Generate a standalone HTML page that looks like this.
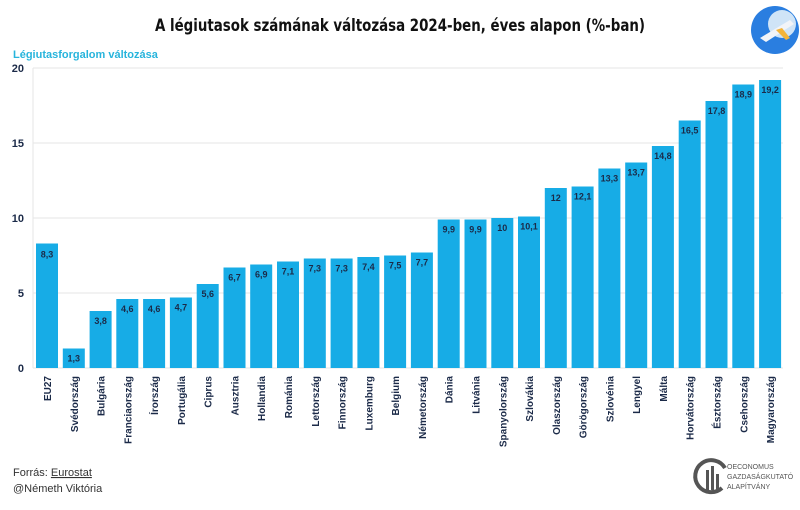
<!DOCTYPE html>
<html><head><meta charset="utf-8"><style>
html,body{margin:0;padding:0;background:#fff;}
svg{display:block;font-family:"Liberation Sans",sans-serif;}
.v{font-size:9px;font-weight:bold;fill:#1b2a48;text-anchor:middle;}
.c{font-size:10px;font-weight:bold;fill:#1b2a48;text-anchor:end;}
.t{font-size:11px;font-weight:bold;fill:#1b2a48;text-anchor:end;}
rect.b{fill:#17ace6;}
</style></head><body>
<svg width="800" height="510" viewBox="0 0 800 510">
<text x="400" y="31" text-anchor="middle" font-size="17" font-weight="bold" fill="#111" textLength="490" lengthAdjust="spacingAndGlyphs" style="font-family:'DejaVu Sans Condensed','Liberation Sans Narrow','Liberation Sans',sans-serif">A légiutasok számának változása 2024-ben, éves alapon (%-ban)</text>
<text x="13" y="58" font-size="11" font-weight="bold" fill="#27b4dc">Légiutasforgalom változása</text>
<g stroke="#e6e6e6" stroke-width="1">
<line x1="33" y1="68" x2="783" y2="68"/><line x1="33" y1="143" x2="783" y2="143"/><line x1="33" y1="218" x2="783" y2="218"/><line x1="33" y1="293" x2="783" y2="293"/><line x1="33" y1="368" x2="783" y2="368"/>
<line x1="33" y1="68" x2="33" y2="368"/>
</g>
<text class="t" x="24" y="72">20</text><text class="t" x="24" y="147">15</text><text class="t" x="24" y="222">10</text><text class="t" x="24" y="297">5</text><text class="t" x="24" y="372">0</text>
<g>
<rect class="b" x="36" y="243.5" width="22" height="124.5"/>
<rect class="b" x="62.8" y="348.5" width="22" height="19.5"/>
<rect class="b" x="89.6" y="311" width="22" height="57"/>
<rect class="b" x="116.3" y="299" width="22" height="69"/>
<rect class="b" x="143.1" y="299" width="22" height="69"/>
<rect class="b" x="169.9" y="297.5" width="22" height="70.5"/>
<rect class="b" x="196.7" y="284" width="22" height="84"/>
<rect class="b" x="223.5" y="267.5" width="22" height="100.5"/>
<rect class="b" x="250.2" y="264.5" width="22" height="103.5"/>
<rect class="b" x="277" y="261.5" width="22" height="106.5"/>
<rect class="b" x="303.8" y="258.5" width="22" height="109.5"/>
<rect class="b" x="330.6" y="258.5" width="22" height="109.5"/>
<rect class="b" x="357.4" y="257" width="22" height="111"/>
<rect class="b" x="384.1" y="255.5" width="22" height="112.5"/>
<rect class="b" x="410.9" y="252.5" width="22" height="115.5"/>
<rect class="b" x="437.7" y="219.5" width="22" height="148.5"/>
<rect class="b" x="464.5" y="219.5" width="22" height="148.5"/>
<rect class="b" x="491.3" y="218" width="22" height="150"/>
<rect class="b" x="518" y="216.5" width="22" height="151.5"/>
<rect class="b" x="544.8" y="188" width="22" height="180"/>
<rect class="b" x="571.6" y="186.5" width="22" height="181.5"/>
<rect class="b" x="598.4" y="168.5" width="22" height="199.5"/>
<rect class="b" x="625.2" y="162.5" width="22" height="205.5"/>
<rect class="b" x="651.9" y="146" width="22" height="222"/>
<rect class="b" x="678.7" y="120.5" width="22" height="247.5"/>
<rect class="b" x="705.5" y="101" width="22" height="267"/>
<rect class="b" x="732.3" y="84.5" width="22" height="283.5"/>
<rect class="b" x="759.1" y="80" width="22" height="288"/>
</g>
<g>
<text class="v" x="47" y="257.5">8,3</text>
<text class="v" x="73.8" y="361.5">1,3</text>
<text class="v" x="100.6" y="324">3,8</text>
<text class="v" x="127.3" y="312">4,6</text>
<text class="v" x="154.1" y="312">4,6</text>
<text class="v" x="180.9" y="310.5">4,7</text>
<text class="v" x="207.7" y="297">5,6</text>
<text class="v" x="234.5" y="280.5">6,7</text>
<text class="v" x="261.2" y="277.5">6,9</text>
<text class="v" x="288" y="274.5">7,1</text>
<text class="v" x="314.8" y="271.5">7,3</text>
<text class="v" x="341.6" y="271.5">7,3</text>
<text class="v" x="368.4" y="270">7,4</text>
<text class="v" x="395.1" y="268.5">7,5</text>
<text class="v" x="421.9" y="265.5">7,7</text>
<text class="v" x="448.7" y="232.5">9,9</text>
<text class="v" x="475.5" y="232.5">9,9</text>
<text class="v" x="502.3" y="231">10</text>
<text class="v" x="529" y="229.5">10,1</text>
<text class="v" x="555.8" y="201">12</text>
<text class="v" x="582.6" y="199.5">12,1</text>
<text class="v" x="609.4" y="181.5">13,3</text>
<text class="v" x="636.2" y="175.5">13,7</text>
<text class="v" x="662.9" y="159">14,8</text>
<text class="v" x="689.7" y="133.5">16,5</text>
<text class="v" x="716.5" y="114">17,8</text>
<text class="v" x="743.3" y="97.5">18,9</text>
<text class="v" x="770.1" y="93">19,2</text>
</g>
<g>
<text class="c" transform="translate(51,376) rotate(-90)">EU27</text>
<text class="c" transform="translate(77.8,376) rotate(-90)">Svédország</text>
<text class="c" transform="translate(104.6,376) rotate(-90)">Bulgária</text>
<text class="c" transform="translate(131.3,376) rotate(-90)">Franciaország</text>
<text class="c" transform="translate(158.1,376) rotate(-90)">Írország</text>
<text class="c" transform="translate(184.9,376) rotate(-90)">Portugália</text>
<text class="c" transform="translate(211.7,376) rotate(-90)">Ciprus</text>
<text class="c" transform="translate(238.5,376) rotate(-90)">Ausztria</text>
<text class="c" transform="translate(265.2,376) rotate(-90)">Hollandia</text>
<text class="c" transform="translate(292,376) rotate(-90)">Románia</text>
<text class="c" transform="translate(318.8,376) rotate(-90)">Lettország</text>
<text class="c" transform="translate(345.6,376) rotate(-90)">Finnország</text>
<text class="c" transform="translate(372.4,376) rotate(-90)">Luxemburg</text>
<text class="c" transform="translate(399.1,376) rotate(-90)">Belgium</text>
<text class="c" transform="translate(425.9,376) rotate(-90)">Németország</text>
<text class="c" transform="translate(452.7,376) rotate(-90)">Dánia</text>
<text class="c" transform="translate(479.5,376) rotate(-90)">Litvánia</text>
<text class="c" transform="translate(506.3,376) rotate(-90)">Spanyolország</text>
<text class="c" transform="translate(533,376) rotate(-90)">Szlovákia</text>
<text class="c" transform="translate(559.8,376) rotate(-90)">Olaszország</text>
<text class="c" transform="translate(586.6,376) rotate(-90)">Görögország</text>
<text class="c" transform="translate(613.4,376) rotate(-90)">Szlovénia</text>
<text class="c" transform="translate(640.2,376) rotate(-90)">Lengyel</text>
<text class="c" transform="translate(666.9,376) rotate(-90)">Málta</text>
<text class="c" transform="translate(693.7,376) rotate(-90)">Horvátország</text>
<text class="c" transform="translate(720.5,376) rotate(-90)">Észtország</text>
<text class="c" transform="translate(747.3,376) rotate(-90)">Csehország</text>
<text class="c" transform="translate(774.1,376) rotate(-90)">Magyarország</text>
</g>
<text x="13" y="476" font-size="11" fill="#333">Forrás: <tspan text-decoration="underline">Eurostat</tspan></text>
<text x="13" y="492" font-size="11" fill="#333">@Németh Viktória</text>
<circle cx="775" cy="30" r="24" fill="#2a7ee0"/>
<circle cx="782" cy="24" r="14" fill="#cfe4f7"/>
<path d="M760 38 L790 20 L794 24 L766 42 Z" fill="#f2f4f8"/>
<path d="M776 30 L786 40 L790 38 L782 28 Z" fill="#f3b43a"/>
<path d="M725 468 A16 16 0 1 0 722 488" stroke="#555" stroke-width="4" fill="none"/>
<rect x="706" y="470" width="3" height="20" fill="#555"/><rect x="711" y="466" width="3" height="24" fill="#555"/><rect x="716" y="474" width="3" height="16" fill="#555"/>
<text x="727" y="469" font-size="7" fill="#555">OECONOMUS</text>
<text x="727" y="479" font-size="7" fill="#555">GAZDASÁGKUTATÓ</text>
<text x="727" y="489" font-size="7" fill="#555">ALAPÍTVÁNY</text>
</svg>
</body></html>
